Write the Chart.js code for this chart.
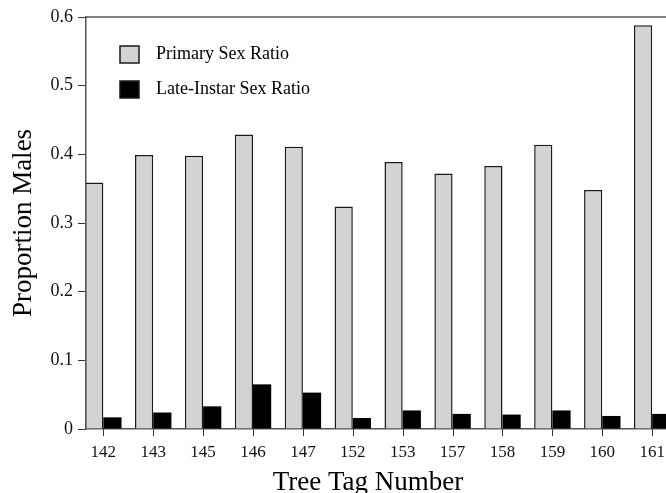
<!DOCTYPE html>
<html>
<head>
<meta charset="utf-8">
<script src="https://cdn.jsdelivr.net/npm/chart.js@4.4.0/dist/chart.umd.min.js"></script>
<style>
  html, body { margin: 0; padding: 0; overflow: hidden; background: #fff; }
  canvas { display: block; }
</style>
</head>
<body>
<canvas id="sexRatioChart" width="736" height="496"></canvas>
<script>
const trees = ['142', '143', '145', '146', '147', '152', '153', '157', '158', '159', '160', '161'];
const primary = [0.359, 0.399, 0.398, 0.429, 0.411, 0.324, 0.389, 0.372, 0.383, 0.414, 0.348, 0.588];
const lateInstar = [0.017, 0.024, 0.033, 0.065, 0.053, 0.016, 0.027, 0.022, 0.021, 0.027, 0.019, 0.022];
const seriesNames = ['Primary Sex Ratio', 'Late-Instar Sex Ratio'];

const serif = 'Liberation Serif';

// legend sits inside the plot, top left
const insideLegend = {
  id: 'insideLegend',
  afterDraw(chart) {
    const ctx = chart.ctx;
    ctx.save();
    chart.data.datasets.forEach((ds, i) => {
      const y = 46 + i * 35;
      ctx.fillStyle = ds.backgroundColor;
      ctx.fillRect(120, y, 19, 17);
      ctx.lineWidth = 1.5;
      ctx.strokeStyle = '#1a1a1a';
      ctx.strokeRect(120, y, 19, 17);
      ctx.fillStyle = '#000';
      ctx.font = '18px "' + serif + '"';
      ctx.textBaseline = 'middle';
      ctx.fillText(ds.label, 156, y + 8.5);
    });
    ctx.restore();
  }
};

// line along the top of the plot, and tick marks under each tree
const frame = {
  id: 'frame',
  afterDraw(chart) {
    const { ctx, chartArea } = chart;
    const xScale = chart.scales.x;
    ctx.save();
    ctx.strokeStyle = '#555';
    ctx.lineWidth = 1.5;
    ctx.beginPath();
    ctx.moveTo(chartArea.left, chartArea.top);
    ctx.lineTo(chartArea.right, chartArea.top);
    ctx.stroke();

    ctx.strokeStyle = '#333';
    ctx.lineWidth = 1;
    ctx.beginPath();
    trees.forEach((t, i) => {
      const px = Math.round(xScale.getPixelForValue(i)) + 0.5;
      ctx.moveTo(px, chartArea.bottom);
      ctx.lineTo(px, chartArea.bottom + 7);
    });
    ctx.stroke();
    ctx.restore();
  }
};

const ctx = document.getElementById('sexRatioChart').getContext('2d');
new Chart(ctx, {
  type: 'bar',
  data: {
    datasets: [
      {
        label: seriesNames[0],
        data: primary.map((v, i) => ({ x: i, y: v })),
        backgroundColor: '#d3d3d3',
        borderColor: '#1a1a1a',
        borderWidth: 1.5,
      },
      {
        label: seriesNames[1],
        data: lateInstar.map((v, i) => ({ x: i, y: v })),
        backgroundColor: '#000',
        borderColor: '#000',
        borderWidth: 0,
      },
    ],
  },
  options: {
    responsive: false,
    animation: false,
    categoryPercentage: 0.73,
    barPercentage: 1,
    layout: { padding: { top: 17, left: 0, right: 0, bottom: 0 } },
    plugins: {
      legend: { display: false },
      tooltip: { enabled: false },
      title: {
        display: true,
        position: 'bottom',
        text: 'Tree Tag Number',
        color: '#000',
        font: { family: serif, size: 27, weight: 'normal', lineHeight: 1 },
        padding: { top: 0, bottom: 0 },
      },
    },
    scales: {
      x: {
        type: 'linear',
        offset: false,
        min: -0.347,
        max: 12.68,
        afterFit: scale => { scale.height = 40; },
        grid: { display: false, offset: false, tickLength: 7 },
        border: { display: true, color: '#555', width: 1.5 },
        ticks: {
          stepSize: 1,
          includeBounds: false,
          autoSkip: false,
          maxRotation: 0,
          padding: 6,
          color: '#111',
          font: { family: serif, size: 17 },
          callback: value => (Number.isInteger(value) && trees[value]) ? trees[value] : '',
        },
      },
      y: {
        min: 0,
        max: 0.6,
        afterFit: scale => { scale.width = 86; },
        grid: { display: true, drawOnChartArea: false, drawTicks: true, tickLength: 8, color: '#333', lineWidth: 1 },
        border: { display: true, color: '#555', width: 1.5 },
        ticks: {
          stepSize: 0.1,
          padding: 5,
          color: '#111',
          font: { family: serif, size: 18 },
          callback: value => value === 0 ? '0' : value.toFixed(1),
        },
        title: {
          display: true,
          text: 'Proportion Males',
          color: '#000',
          font: { family: serif, size: 27, lineHeight: 1 },
          padding: { top: 10, bottom: 0 },
        },
      },
    },
  },
  plugins: [insideLegend, frame],
});
</script>
</body>
</html>
